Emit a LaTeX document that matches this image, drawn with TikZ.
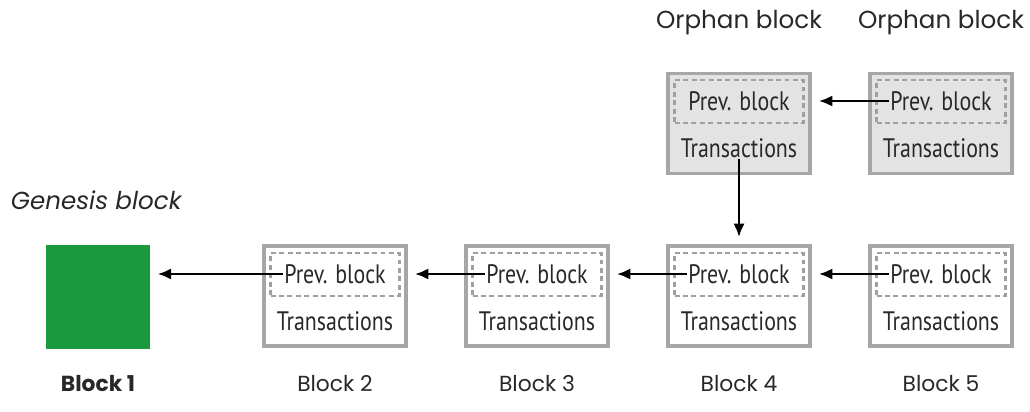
\documentclass[tikz,border=0pt]{standalone}
\usepackage{fontspec}
\setmainfont{Poppins}
\newfontfamily\condfont[FakeStretch=0.82]{PT Sans}
\usepackage{tikz}
\usetikzlibrary{arrows.meta, positioning, calc}
\definecolor{genesis}{RGB}{26,154,62}
\definecolor{ink}{RGB}{40,40,40}

\begin{document}
\begin{tikzpicture}[x=0.025cm, y=-0.025cm,
  block/.style={rectangle, draw=gray!70, line width=2.2pt, fill=white,
    minimum width=3.55cm, minimum height=2.5cm, inner sep=0pt},
  orphan/.style={block, fill=gray!22},
  dbox/.style={rectangle, draw=gray!75, dashed, dash pattern=on 3.5pt off 2.5pt,
    line width=1.6pt, minimum width=3.22cm, minimum height=1.07cm, inner sep=0pt},
  txt/.style={font=\condfont\fontsize{19}{21}\selectfont, text=ink, inner sep=1pt},
  lbl/.style={font=\fontsize{15.5}{18}\selectfont, text=ink},
  arr/.style={-{Latex[length=0.34cm, width=0.28cm]}, line width=2pt, shorten >=0.18cm}]
  \useasboundingbox (0,0) rectangle (1030,412);

  % genesis
  \node[rectangle, fill=genesis, minimum size=2.6cm, inner sep=0pt] (b1) at (98,297) {};
  \node[lbl, font=\itshape\fontsize{17.5}{20}\selectfont, anchor=west] (gen) at (6,200) {Genesis block};

  % main chain
  \node[block] (b2) at (335,296) {};
  \node[block] (b3) at (537,296) {};
  \node[block] (b4) at (739,296) {};
  \node[block] (b5) at (941,296) {};

  \node[dbox] (d2) at (335,274.5) {};
  \node[dbox] (d3) at (537,274.5) {};
  \node[dbox] (d4) at (739,274.5) {};
  \node[dbox] (d5) at (941,274.5) {};

  \node[txt] (p2) at (335,274) {Prev. block};
  \node[txt] (p3) at (537,274) {Prev. block};
  \node[txt] (p4) at (739,274) {Prev. block};
  \node[txt] (p5) at (941,274) {Prev. block};

  \node[txt] (t2) at (335,321) {Transactions};
  \node[txt] (t3) at (537,321) {Transactions};
  \node[txt] (t4) at (739,321) {Transactions};
  \node[txt] (t5) at (941,321) {Transactions};

  % orphans
  \node[orphan] (o4) at (739,123.5) {};
  \node[orphan] (o5) at (941,123.5) {};
  \node[dbox] (do4) at (739,101.5) {};
  \node[dbox] (do5) at (941,101.5) {};
  \node[txt] (po4) at (739,101) {Prev. block};
  \node[txt] (po5) at (941,101) {Prev. block};
  \node[txt] (to4) at (739,148) {Transactions};
  \node[txt] (to5) at (941,148) {Transactions};

  % labels
  \node[lbl, font=\bfseries\fontsize{15.5}{18}\selectfont] (l1) at (98,384) {Block 1};
  \node[lbl] (l2) at (335,384) {Block 2};
  \node[lbl] (l3) at (537,384) {Block 3};
  \node[lbl] (l4) at (739,384) {Block 4};
  \node[lbl] (l5) at (941,384) {Block 5};
  \node[lbl, font=\fontsize{17.5}{20}\selectfont] (lo4) at (739,23) {Orphan block};
  \node[lbl, font=\fontsize{17.5}{20}\selectfont] (lo5) at (941,23) {Orphan block};

  % links
  \draw[arr] (p2.west) -- (p2.west -| b1.east);
  \draw[arr] (p3.west) -- (p3.west -| b2.east);
  \draw[arr] (p4.west) -- (p4.west -| b3.east);
  \draw[arr] (p5.west) -- (p5.west -| b4.east);
  \draw[arr] (po5.west) -- (po5.west -| o4.east);
  \draw[arr] (to4.south) -- (b4.north);
\end{tikzpicture}
\end{document}
